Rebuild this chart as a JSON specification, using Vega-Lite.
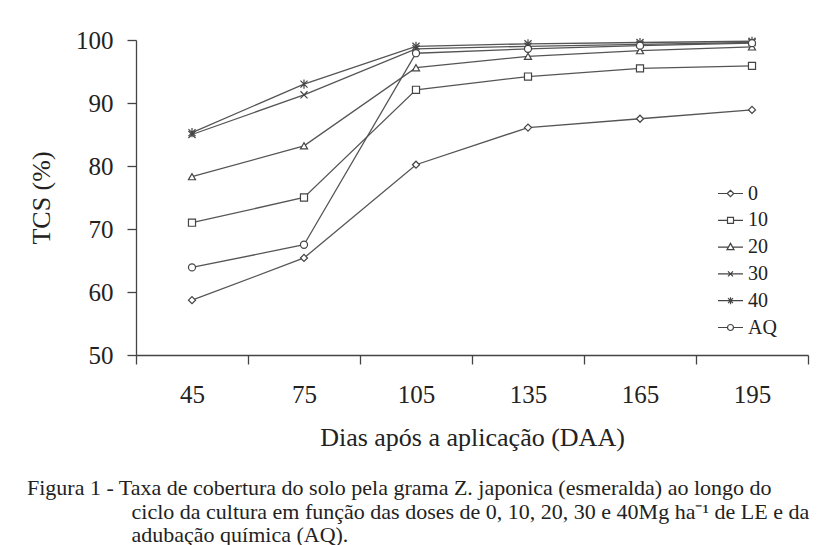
{
  "$schema": "https://vega.github.io/schema/vega-lite/v6.json",
  "width": 672,
  "height": 315,
  "autosize": "none",
  "padding": {"left": 136, "top": 40, "right": 16, "bottom": 190},
  "background": "white",
  "config": {
    "view": {"stroke": null},
    "font": "Liberation Serif",
    "title": {"font": "Liberation Serif"},
    "axis": {"titleFont": "Liberation Serif", "labelFont": "Liberation Serif"}
  },
  "title": {
    "text": [
      "Figura 1 - Taxa de cobertura do solo pela grama Z. japonica (esmeralda) ao longo do",
      "\u200b\u00a0\u00a0\u00a0\u00a0\u00a0\u00a0\u00a0\u00a0\u00a0\u00a0\u00a0\u00a0\u00a0\u00a0\u00a0\u00a0\u00a0\u00a0\u00a0ciclo da cultura em função das doses de 0, 10, 20, 30 e 40Mg ha⁻¹ de LE e da",
      "\u200b\u00a0\u00a0\u00a0\u00a0\u00a0\u00a0\u00a0\u00a0\u00a0\u00a0\u00a0\u00a0\u00a0\u00a0\u00a0\u00a0\u00a0\u00a0\u00a0adubação química (AQ)."
    ],
    "orient": "bottom",
    "anchor": "start",
    "frame": "group",
    "dx": -109,
    "offset": 28,
    "fontSize": 22,
    "fontWeight": "normal",
    "lineHeight": 23.5,
    "color": "#222",
    "font": "Liberation Serif"
  },
  "data": {
    "values": [
      {"dia": 45, "dose": "0", "tcs": 58.7},
      {"dia": 75, "dose": "0", "tcs": 65.4},
      {"dia": 105, "dose": "0", "tcs": 80.2},
      {"dia": 135, "dose": "0", "tcs": 86.1},
      {"dia": 165, "dose": "0", "tcs": 87.5},
      {"dia": 195, "dose": "0", "tcs": 88.9},
      {"dia": 45, "dose": "10", "tcs": 71.0},
      {"dia": 75, "dose": "10", "tcs": 75.0},
      {"dia": 105, "dose": "10", "tcs": 92.1},
      {"dia": 135, "dose": "10", "tcs": 94.2},
      {"dia": 165, "dose": "10", "tcs": 95.5},
      {"dia": 195, "dose": "10", "tcs": 95.9},
      {"dia": 45, "dose": "20", "tcs": 78.3},
      {"dia": 75, "dose": "20", "tcs": 83.2},
      {"dia": 105, "dose": "20", "tcs": 95.6},
      {"dia": 135, "dose": "20", "tcs": 97.4},
      {"dia": 165, "dose": "20", "tcs": 98.3},
      {"dia": 195, "dose": "20", "tcs": 98.9},
      {"dia": 45, "dose": "30", "tcs": 85.0},
      {"dia": 75, "dose": "30", "tcs": 91.3},
      {"dia": 105, "dose": "30", "tcs": 98.6},
      {"dia": 135, "dose": "30", "tcs": 99.0},
      {"dia": 165, "dose": "30", "tcs": 99.3},
      {"dia": 195, "dose": "30", "tcs": 99.6},
      {"dia": 45, "dose": "40", "tcs": 85.3},
      {"dia": 75, "dose": "40", "tcs": 93.0},
      {"dia": 105, "dose": "40", "tcs": 99.0},
      {"dia": 135, "dose": "40", "tcs": 99.4},
      {"dia": 165, "dose": "40", "tcs": 99.6},
      {"dia": 195, "dose": "40", "tcs": 99.8},
      {"dia": 45, "dose": "AQ", "tcs": 63.9},
      {"dia": 75, "dose": "AQ", "tcs": 67.5},
      {"dia": 105, "dose": "AQ", "tcs": 97.9},
      {"dia": 135, "dose": "AQ", "tcs": 98.6},
      {"dia": 165, "dose": "AQ", "tcs": 99.1},
      {"dia": 195, "dose": "AQ", "tcs": 99.5}
    ]
  },
  "encoding": {
    "x": {
      "field": "dia",
      "type": "ordinal",
      "bandPosition": 0.5,
      "scale": {"type": "band", "paddingInner": 0, "paddingOuter": 0},
      "axis": {
        "title": "Dias após a aplicação (DAA)",
        "titleFont": "Liberation Serif",
        "titleFontSize": 26,
        "titleFontWeight": "normal",
        "titleColor": "#222",
        "titlePadding": 17,
        "labelFont": "Liberation Serif",
        "labelFontSize": 25,
        "labelColor": "#222",
        "labelAngle": 0,
        "labelPadding": 18,
        "tickBand": "extent",
        "tickSize": 9,
        "tickColor": "#444",
        "tickWidth": 1.3,
        "domainColor": "#444",
        "domainWidth": 1.3,
        "grid": false
      }
    },
    "y": {
      "field": "tcs",
      "type": "quantitative",
      "scale": {"domain": [50, 100], "nice": false, "zero": false},
      "axis": {
        "title": "TCS (%)",
        "titleFont": "Liberation Serif",
        "titleFontSize": 26,
        "titleFontWeight": "normal",
        "titleColor": "#222",
        "titlePadding": 21,
        "values": [50, 60, 70, 80, 90, 100],
        "labelFont": "Liberation Serif",
        "labelFontSize": 25,
        "labelColor": "#222",
        "labelPadding": 14,
        "tickSize": 9,
        "tickColor": "#444",
        "tickWidth": 1.3,
        "domainColor": "#444",
        "domainWidth": 1.3,
        "grid": false
      }
    }
  },
  "layer": [
    {
      "mark": {"type": "line", "stroke": "#555", "strokeWidth": 1.3},
      "encoding": {"detail": {"field": "dose", "type": "nominal"}}
    },
    {
      "mark": {"type": "point", "filled": false, "fill": "white", "fillOpacity": 1, "stroke": "#444", "strokeWidth": 1.2, "opacity": 1, "size": 50},
      "encoding": {
        "shape": {
          "field": "dose",
          "type": "nominal",
          "scale": {
            "domain": ["0", "10", "20", "30", "40", "AQ"],
            "range": ["diamond", "square", "triangle-up", "M-1,-1L1,1M-1,1L1,-1", "M-1,-1L1,1M-1,1L1,-1M0,-1.3L0,1.3", "circle"]
          },
          "legend": null
        }
      }
    },
    {
      "mark": {"type": "point", "filled": false, "stroke": "#444", "strokeWidth": 1.2, "opacity": 0, "size": 50},
      "encoding": {
        "shape": {
          "field": "dose",
          "type": "nominal",
          "scale": {
            "domain": ["0", "10", "20", "30", "40", "AQ"],
            "range": [
              "M-1,0H-0.26M0.26,0H1M-0.26,0L0,-0.26L0.26,0L0,0.26Z",
              "M-1,0H-0.24M0.24,0H1M-0.24,-0.24H0.24V0.24H-0.24Z",
              "M-1,0H-0.17M0.17,0H1M0,-0.3L0.28,0.2H-0.28Z",
              "M-1,0H1M-0.2,-0.2L0.2,0.2M-0.2,0.2L0.2,-0.2",
              "M-1,0H1M-0.2,-0.2L0.2,0.2M-0.2,0.2L0.2,-0.2M0,-0.28V0.28",
              "M-1,0H-0.24M0.24,0H1M0.24,0A0.24,0.24,0,1,1,-0.24,0A0.24,0.24,0,1,1,0.24,0Z"
            ]
          },
          "legend": {
            "title": null,
            "orient": "none",
            "legendX": 581,
            "legendY": 140,
            "symbolSize": 625,
            "symbolOpacity": 1,
            "symbolStrokeColor": "#444",
            "symbolStrokeWidth": 1.2,
            "symbolFillColor": "white",
            "labelFont": "Liberation Serif",
            "labelFontSize": 20,
            "labelColor": "#222",
            "labelOffset": 4,
            "rowPadding": 2.8,
            "padding": 0,
            "encode": {
              "symbols": {"update": {"opacity": {"value": 1}, "fill": {"value": "white"}, "fillOpacity": {"value": 1}, "stroke": {"value": "#444"}}}
            }
          }
        }
      }
    }
  ],
  "resolve": {"scale": {"shape": "independent"}, "legend": {"shape": "independent"}}
}
